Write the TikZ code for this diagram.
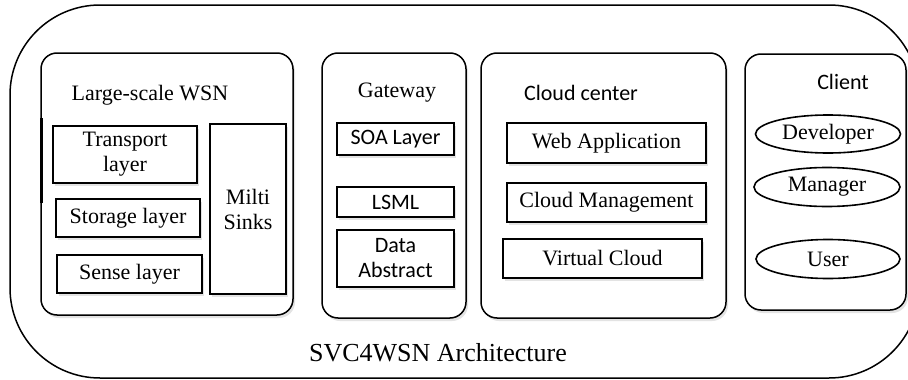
\documentclass[tikz,border=0pt]{standalone}
\usepackage{fontspec}
\setmainfont{Liberation Serif}
\newfontfamily\calib{Carlito}
\usetikzlibrary{shapes.geometric,shadows}
\tikzset{
  shd/.style={drop shadow={opacity=0.22,shadow xshift=2pt,shadow yshift=-3pt}},
  panel/.style={draw,line width=1.5pt,rounded corners=16pt,fill=white,shd,inner sep=0pt},
  blk/.style={draw,line width=2pt,fill=white,shd,align=center,inner sep=0pt,font=\fontsize{22}{25}\selectfont},
  sblk/.style={blk,font=\calib\fontsize{22}{25}\selectfont},
  oval/.style={draw,ellipse,line width=1.6pt,fill=white,inner sep=0pt,font=\fontsize{22}{25}\selectfont},
  lbl/.style={inner sep=0pt,font=\fontsize{22}{25}\selectfont},
  slbl/.style={inner sep=0pt,font=\calib\fontsize{22}{25}\selectfont},
}
\begin{document}
\begin{tikzpicture}[x=1pt,y=-1pt]
\path[use as bounding box,clip] (0,0) rectangle (908,380);
\fill[white] (0,0) rectangle (908,380);
\node[draw,line width=1.5pt,rounded corners=90pt,minimum width=909pt,minimum height=373pt,inner sep=0pt] (arch) at (464.5,191.5) {};
% panels
\node[panel,minimum width=252pt,minimum height=262pt] (wsn) at (167,184) {};
\node[panel,minimum width=144pt,minimum height=265pt] (gw) at (394,185.5) {};
\node[panel,minimum width=245pt,minimum height=265pt] (cc) at (603.5,185.5) {};
\node[panel,minimum width=161pt,minimum height=256pt] (cl) at (825.5,182) {};
\coordinate (ta) at (41,118);
\coordinate (tb) at (41,203);
\draw[line width=3pt] (ta) -- (tb);
% WSN
\node[lbl] (wsnt) at (150,95) {Large-scale WSN};
\node[blk,minimum width=144pt,minimum height=57pt] (tr) at (125,154.5) {Transport\\layer};
\node[blk,minimum width=144pt,minimum height=38pt] (st) at (128,218) {Storage layer};
\node[blk,minimum width=145pt,minimum height=38pt] (se) at (129.5,274) {Sense layer};
\node[blk,minimum width=76pt,minimum height=170pt] (ms) at (248,209) {Milti\\Sinks};
% Gateway
\node[lbl] (gwt) at (397,93) {Gateway};
\node[sblk,minimum width=117pt,minimum height=32pt] (soa) at (395.5,139) {SOA Layer};
\node[sblk,minimum width=117pt,minimum height=30pt] (lsml) at (395.5,202) {LSML};
\node[sblk,minimum width=117pt,minimum height=57pt] (da) at (395.5,258.5) {Data\\Abstract};
% Cloud center
\node[slbl] (cct) at (581,93) {Cloud center};
\node[blk,minimum width=199pt,minimum height=40pt] (wa) at (606.5,143) {Web Application};
\node[blk,minimum width=199pt,minimum height=39pt] (cm) at (606.5,202.5) {Cloud Management};
\node[blk,minimum width=199pt,minimum height=39pt] (vc) at (602.5,258.5) {Virtual Cloud};
% Client
\node[slbl] (clt) at (843,82) {Client};
\node[oval,minimum width=145pt,minimum height=38pt] (dev) at (828,134) {Developer};
\node[oval,minimum width=146pt,minimum height=39pt] (man) at (827,187) {Manager};
\node[oval,minimum width=144pt,minimum height=39pt] (usr) at (828,259) {User};
% title
\node[inner sep=0pt,font=\fontsize{26}{28}\selectfont] (title) at (438,353) {SVC4WSN Architecture};
\end{tikzpicture}
\end{document}
